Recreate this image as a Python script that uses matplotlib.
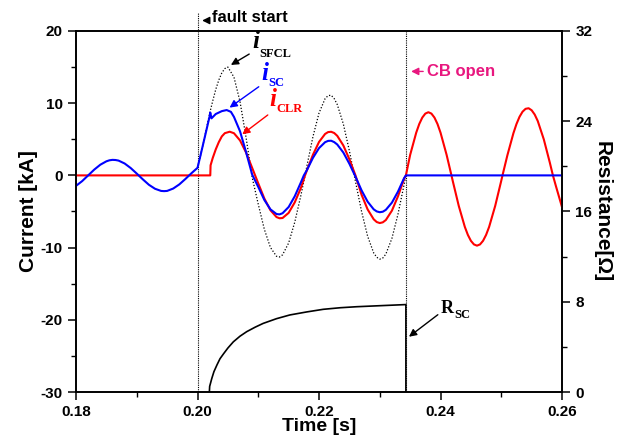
import matplotlib
matplotlib.use("Agg")
import matplotlib.pyplot as plt
import numpy as np
from matplotlib import ticker

plt.rcParams['font.family'] = ['Liberation Sans', 'DejaVu Sans']
plt.rcParams['font.weight'] = 'bold'
plt.rcParams['axes.unicode_minus'] = False

# i_SC (blue)
t_sc = [0.180, 0.181, 0.182, 0.183, 0.184, 0.185, 0.1855, 0.186, 0.1865, 0.187,
        0.188, 0.189, 0.190, 0.191, 0.192, 0.193, 0.194, 0.1945, 0.195, 0.196,
        0.197, 0.198, 0.199,
        0.200, 0.2005, 0.201, 0.2015, 0.2020, 0.2021, 0.2023, 0.2030, 0.2040,
        0.2048, 0.2055, 0.206, 0.207, 0.208, 0.209, 0.210, 0.211, 0.212, 0.213,
        0.2135, 0.214, 0.215, 0.216, 0.217, 0.2175, 0.218, 0.219, 0.220, 0.221,
        0.2215, 0.222, 0.2225, 0.223, 0.224, 0.225, 0.226, 0.227, 0.228, 0.229,
        0.2295, 0.230, 0.2305, 0.231, 0.232, 0.233, 0.234, 0.2343, 0.260]
i_sc = [-1.45, -0.8, 0.0, 0.8, 1.48, 1.95, 2.09, 2.15, 2.13, 2.05,
        1.65, 1.02, 0.25, -0.55, -1.3, -1.85, -2.15, -2.18, -2.15, -1.82,
        -1.25, -0.5, 0.3,
        1.05, 2.8, 4.6, 6.4, 8.2, 8.7, 7.9, 8.5, 8.9,
        9.05, 8.8, 8.1, 6.1, 3.2, 0.1, -1.6, -3.4, -4.7, -5.35,
        -5.4, -5.24, -4.38, -2.9, -1.0, 0.0, 0.73, 2.43, 3.78, 4.6,
        4.78, 4.8, 4.61, 4.28, 3.17, 1.61, -0.17, -2.07, -3.64, -4.7,
        -4.99, -5.1, -5.03, -4.77, -3.77, -2.24, -0.38, 0.0, 0.0]

# i_CLR (red)
t_clr = [0.180, 0.2021, 0.20215, 0.2025, 0.203, 0.2035, 0.204, 0.2045, 0.2053,
         0.206, 0.207, 0.208, 0.209, 0.210, 0.211, 0.212, 0.213, 0.2135, 0.214,
         0.215, 0.216, 0.217, 0.2177, 0.218, 0.219, 0.220, 0.221, 0.2215, 0.222,
         0.2225, 0.223, 0.224, 0.225, 0.226, 0.227, 0.228, 0.229, 0.2295, 0.230,
         0.2305, 0.231, 0.232, 0.233, 0.234,
         0.2343, 0.235, 0.236, 0.2365, 0.237, 0.2375, 0.238, 0.2385, 0.239,
         0.2395, 0.240, 0.241, 0.2418,
         0.242, 0.243, 0.244, 0.2445, 0.245, 0.2455, 0.246, 0.2465, 0.247,
         0.2475, 0.248, 0.249, 0.250, 0.2502,
         0.251, 0.252, 0.2525, 0.253, 0.2535, 0.254, 0.2545, 0.255, 0.2555,
         0.256, 0.257, 0.258, 0.2585, 0.259, 0.260]
i_clr = [0.0, 0.0, 1.4, 2.4, 3.6, 4.6, 5.4, 5.85, 6.05,
         5.84, 4.84, 3.15, 1.03, -1.11, -3.2, -4.82, -5.77, -5.94, -5.9,
         -5.19, -3.74, -1.77, 0.0, 0.68, 2.86, 4.63, 5.74, 6.0, 6.04,
         5.87, 5.48, 4.15, 2.23, 0.0, -2.67, -4.71, -6.08, -6.46, -6.6,
         -6.5, -6.18, -4.88, -2.89, -0.49,
         0.0, 2.84, 5.92, 7.12, 8.01, 8.56, 8.75, 8.56, 8.01,
         7.12, 5.92, 2.85, 0.0,
         -0.73, -4.22, -7.13, -8.24, -9.06, -9.56, -9.73, -9.56, -9.06,
         -8.24, -7.13, -4.22, -0.73, 0.0,
         2.77, 5.85, 7.11, 8.11, 8.82, 9.22, 9.3, 9.02, 8.43,
         7.54, 4.99, 1.74, 0.0, -1.5, -4.4]

# i_SFCL (dotted black)
t_sfcl = [0.200, 0.2005, 0.201, 0.2015, 0.202, 0.2025, 0.203, 0.2035, 0.204,
          0.2045, 0.205, 0.206, 0.207, 0.208, 0.209, 0.210, 0.211, 0.212, 0.213,
          0.2135, 0.214, 0.215, 0.216, 0.217, 0.2177, 0.218, 0.219, 0.220, 0.221,
          0.2215, 0.222, 0.2225, 0.223, 0.224, 0.225, 0.2258, 0.226, 0.227,
          0.228, 0.229, 0.2295, 0.230, 0.2305, 0.231, 0.232, 0.233, 0.234, 0.2343]
i_sfcl = [1.05, 2.8, 4.6, 6.6, 8.6, 10.3, 11.9, 13.2, 14.2,
          14.8, 15.0, 13.6, 10.2, 5.2, -0.3, -4.0, -7.47, -9.98, -11.2,
          -11.3, -11.0, -9.36, -6.5, -2.83, 0.0, 1.29, 5.36, 8.64, 10.63,
          11.05, 11.1, 10.63, 9.82, 7.13, 3.39, 0.0, -0.85, -4.98,
          -8.43, -10.74, -11.34, -11.6, -11.44, -10.9, -8.72, -5.36, -1.29, 0.0]

# R_SC (right axis)
t_r = [0.20195, 0.2020, 0.20235, 0.2027, 0.2032, 0.2037, 0.2043, 0.2050, 0.2059,
       0.2070, 0.2081, 0.2095, 0.2108, 0.2130, 0.2152, 0.2180, 0.2207, 0.2235,
       0.2262, 0.2300, 0.2343, 0.2343]
r_sc = [0.0, 0.5, 1.2, 1.8, 2.4, 2.95, 3.4, 3.9, 4.45,
        4.95, 5.35, 5.75, 6.08, 6.5, 6.83, 7.1, 7.33, 7.47,
        7.56, 7.65, 7.75, 0.0]

t_fault = 0.200
t_cb = 0.2343

fig = plt.figure(figsize=(6.2, 4.42), dpi=100)
ax = fig.add_axes([0.1226, 0.1131, 0.7839, 0.8168])
ax2 = ax.twinx()

ax.plot(t_clr, i_clr, color='#ff0000', lw=1.5, zorder=3)
ax.plot(t_sc, i_sc, color='#0000ff', lw=1.5, zorder=4)
ax.plot(t_sfcl, i_sfcl, color='black', lw=0.9, ls=(0, (1, 1.5)), zorder=2)

# fault start / CB open markers
ax.plot([t_fault, t_fault], [-30, 22.6], color='black', lw=0.8, ls=(0, (1, 1)),
        clip_on=False, zorder=1)
ax.plot([t_cb, t_cb], [-30, 20], color='black', lw=0.8, ls=(0, (1, 1)), zorder=1)

ax2.plot(t_r, r_sc, color='black', lw=1.2)

ax.set_xlim(0.18, 0.26)
ax.set_ylim(-30, 20)
ax2.set_ylim(0, 32)

ax.xaxis.set_major_locator(ticker.MultipleLocator(0.02))
ax.xaxis.set_minor_locator(ticker.MultipleLocator(0.01))
ax.xaxis.set_major_formatter(ticker.FormatStrFormatter('%.2f'))
ax.yaxis.set_major_locator(ticker.MultipleLocator(10))
ax.yaxis.set_minor_locator(ticker.MultipleLocator(5))
ax2.yaxis.set_major_locator(ticker.MultipleLocator(8))
ax2.yaxis.set_minor_locator(ticker.MultipleLocator(4))

for a in (ax, ax2):
    a.tick_params(which='major', direction='out', length=6, width=1.1, labelsize=11)
    a.tick_params(which='minor', direction='out', length=3.5, width=1.0)
    for s in a.spines.values():
        s.set_linewidth(1.2)
for lab in ax.get_xticklabels() + ax.get_yticklabels() + ax2.get_yticklabels():
    lab.set_fontweight('bold')

ax.set_xlabel('Time [s]', fontsize=14, fontweight='bold', labelpad=-1)
ax.set_ylabel('Current [kA]', fontsize=15, fontweight='bold', labelpad=2)
ax2.set_ylabel('Resistance[Ω]', fontsize=15, fontweight='bold', rotation=-90, labelpad=14)

# annotations
ms = 11
arrow = dict(arrowstyle='-|>', color='black', lw=1.0, mutation_scale=ms)
ax.annotate('', xy=(0.2003, 21.45), xytext=(0.2024, 21.45), arrowprops=arrow,
            annotation_clip=False)
ax.text(0.2024, 21.9, 'fault start', fontsize=12, fontweight='bold', va='center',
        clip_on=False)

pink = '#e8177f'
ax.annotate('', xy=(0.2347, 14.4), xytext=(0.2376, 14.4),
            arrowprops=dict(arrowstyle='-|>', color=pink, lw=1.0, mutation_scale=ms))
ax.text(0.2378, 14.45, 'CB open', fontsize=12, fontweight='bold', color=pink, va='center')

serif = ['Liberation Serif', 'DejaVu Serif']
labels = [
    ('SFCL', 'black', (0.2089, 17.0), (0.2051, 15.1), (0.20897, 17.65), (0.21021, 16.4)),
    ('SC', '#0000ff', (0.21045, 12.5), (0.2049, 9.16), (0.21045, 13.2), (0.21169, 12.38)),
    ('CLR', '#ff0000', (0.21193, 8.6), (0.2070, 5.46), (0.21177, 9.6), (0.21301, 8.78)),
]
for sub, col, tail, head, ipos, spos in labels:
    ax.annotate('', xy=head, xytext=tail,
                arrowprops=dict(arrowstyle='-|>', color=col, lw=1.0, mutation_scale=ms))
    ax.text(*ipos, 'i', family=serif, style='italic', fontweight='bold',
            fontsize=18, color=col, va='baseline')
    ax.text(*spos, sub, family=serif, fontweight='bold', fontsize=9,
            color=col, va='baseline')

ax2.annotate('', xy=(0.23444, 4.75), xytext=(0.23992, 7.0),
             arrowprops=dict(arrowstyle='-|>', color='black', lw=1.0, mutation_scale=ms))
ax2.text(0.24008, 7.0, 'R', family=serif, fontweight='bold', fontsize=13, va='baseline')
ax2.text(0.24222, 6.56, 'SC', family=serif, fontweight='bold', fontsize=9, va='baseline')

fig.savefig('out.png', dpi=100)
